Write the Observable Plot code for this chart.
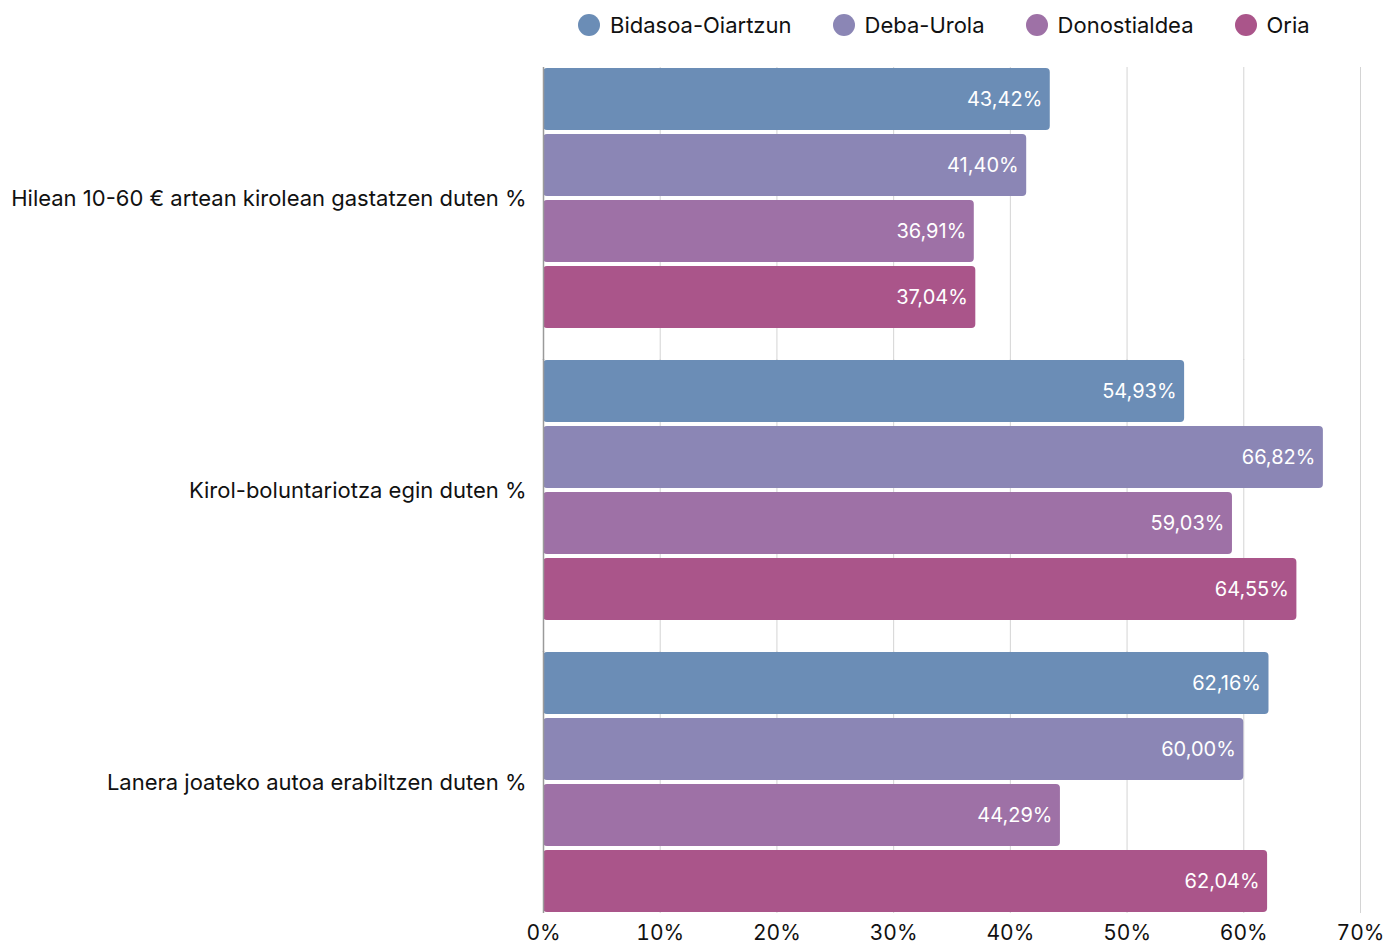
<!DOCTYPE html>
<html>
<head>
<meta charset="utf-8">
<script src="https://cdn.jsdelivr.net/npm/d3@7"></script>
<script src="https://cdn.jsdelivr.net/npm/@observablehq/plot@0.6"></script>
<style>
  html, body { margin: 0; padding: 0; background: #fff; }
  body { width: 1384px; height: 944px; overflow: hidden; font-family: Inter, "Noto Sans", sans-serif; }
  #legend { height: 50px; display: flex; align-items: center; padding-left: 578px; box-sizing: border-box; font-size: 22px; color: #111; }
  .item { display: flex; align-items: center; margin-right: 41px; }
  .sw { width: 22px; height: 22px; border-radius: 50%; margin-right: 10px; }
</style>
</head>
<body>
<div id="legend"></div>
<div id="chart"></div>
<script>
const categories = [
  "Hilean 10-60 € artean kirolean gastatzen duten %",
  "Kirol-boluntariotza egin duten %",
  "Lanera joateko autoa erabiltzen duten %"
];
const regions = ["Bidasoa-Oiartzun", "Deba-Urola", "Donostialdea", "Oria"];
const colors = ["#6b8db6", "#8b86b5", "#9e71a6", "#aa558a"];
const bidasoa = [43.42, 54.93, 62.16];
const debaUrola = [41.40, 66.82, 60.00];
const donostialdea = [36.91, 59.03, 44.29];
const oria = [37.04, 64.55, 62.04];
const xTicks = [0, 10, 20, 30, 40, 50, 60, 70];

const series = [bidasoa, debaUrola, donostialdea, oria];
const data = [];
categories.forEach((c, i) => {
  regions.forEach((r, j) => data.push({category: c, region: r, value: series[j][i]}));
});

const fmt = v => v.toFixed(2).replace(".", ",") + "%";

const legend = document.getElementById("legend");
regions.forEach((r, j) => {
  const it = document.createElement("div");
  it.className = "item";
  it.innerHTML = `<span class="sw" style="background:${colors[j]}"></span><span>${r}</span>`;
  legend.appendChild(it);
});

// grid rules per facet; non-last facets extend down into the gap
const gridUpper = [], gridLast = [];
categories.forEach((c, i) => xTicks.forEach(t => (i < categories.length - 1 ? gridUpper : gridLast).push({category: c, x: t})));

const chart = Plot.plot({
  width: 1384,
  height: 894,
  marginLeft: 543,
  marginRight: 24,
  marginTop: 16,
  marginBottom: 31,
  style: {fontFamily: "Inter, 'Noto Sans', sans-serif", fontSize: "21px", color: "#111", background: "#fff"},
  x: {domain: [0, 70], label: null},
  fy: {domain: categories, paddingInner: 0.104, paddingOuter: 0, label: null},
  y: {domain: regions, paddingInner: 0.06, paddingOuter: 0, axis: null},
  color: {domain: regions, range: colors},
  marks: [
    Plot.axisX({ticks: xTicks, tickFormat: d => d + "%", tickSize: 0, tickPadding: 12, fontSize: 21, label: null}),
    Plot.axisFy({anchor: "left", tickSize: 0, tickPadding: 17, fontSize: 22, label: null}),
    Plot.ruleX(gridUpper.filter(d => d.x > 0), {x: "x", fy: "category", stroke: "#d4d4d4", insetBottom: -31}),
    Plot.ruleX(gridLast.filter(d => d.x > 0), {x: "x", fy: "category", stroke: "#d4d4d4"}),
    Plot.barX(data, {fy: "category", y: "region", x: "value", fill: "region", rx: 4}),
    Plot.ruleX(gridUpper.filter(d => d.x === 0), {x: "x", fy: "category", stroke: "#9a9a9a", strokeWidth: 1.5, insetBottom: -31}),
    Plot.ruleX(gridLast.filter(d => d.x === 0), {x: "x", fy: "category", stroke: "#9a9a9a", strokeWidth: 1.5}),
    Plot.text(data, {fy: "category", y: "region", x: "value", text: d => fmt(d.value), fill: "white", textAnchor: "end", dx: -8, fontSize: 20})
  ]
});
document.getElementById("chart").appendChild(chart);
</script>
</body>
</html>
